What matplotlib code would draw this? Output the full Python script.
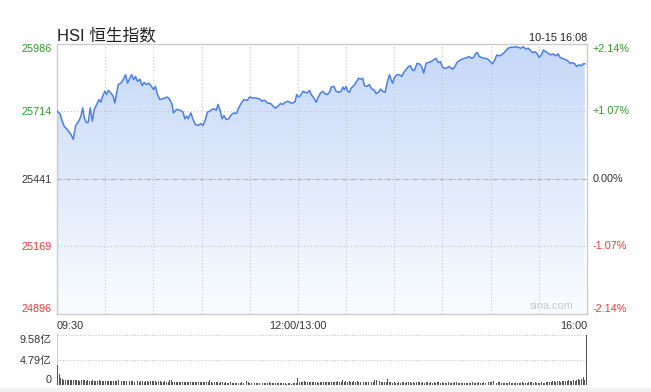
import numpy as np
import matplotlib
matplotlib.use('Agg')
import matplotlib.pyplot as plt
from matplotlib.colors import LinearSegmentedColormap
from matplotlib.patches import Polygon, Rectangle

plt.rcParams['font.family'] = ['Liberation Sans', 'Noto Sans CJK SC', 'DejaVu Sans']

# 恒生指数 分时 (trading minutes since 09:30, lunch break removed)
minutes = [0, 1.9, 2.9, 4.6, 6.0, 7.0, 8.7, 10.1, 11.6, 13.3, 14.9, 16.0, 17.0, 18.4, 19.5,
           20.7, 22.0, 23.2, 24.7, 26.1, 27.3, 28.4, 29.8, 30.9, 31.9, 33.6, 35.0, 36.0, 37.1,
           38.1, 39.8, 41.2, 42.7, 43.9, 45.4, 46.4, 47.7, 48.9, 50.1, 51.6, 53.0, 54.3, 55.7,
           57.2, 58.8, 60.1, 61.3, 62.6, 64.0, 65.5, 67.1, 68.8, 70.2, 71.7, 72.5, 74.4, 76.4,
           78.5, 79.6, 80.8, 81.6, 83.3, 84.7, 86.2, 87.8, 89.5, 90.9, 92.4, 93.6, 95.1, 96.5,
           97.8, 99.2, 100.3, 101.5, 102.8, 104.0, 105.4, 106.9, 108.6, 110.2, 111.7, 113.1,
           114.8, 116.4, 118.5, 119.9, 122.0, 124.1, 126.2, 127.6, 129.3, 130.9, 133.0, 134.5,
           135.9, 137.6, 139.2, 140.7, 142.1, 143.8, 145.4, 146.9, 148.3, 149.2, 150.4, 151.6,
           153.1, 154.5, 155.8, 157.2, 158.3, 159.9, 161.4, 162.4, 164.1, 165.5, 166.6, 168.2,
           169.7, 170.7, 172.4, 173.8, 175.3, 176.9, 178.0, 179.0, 180.0, 181.1, 182.1, 183.1,
           184.8, 186.2, 187.7, 188.9, 190.4, 191.4, 193.1, 194.5, 196.0, 197.2, 198.7, 200.1,
           201.4, 202.8, 204.3, 205.5, 207.0, 208.0, 209.0, 210.1, 211.7, 213.2, 214.6, 215.9,
           217.3, 218.8, 220.0, 221.5, 222.5, 224.2, 225.6, 227.1, 228.3, 229.8, 231.2, 232.9,
           234.5, 236.0, 237.4, 238.7, 240.1, 241.6, 242.8, 244.2, 246.3, 247.8, 249.0, 250.5,
           251.9, 253.6, 255.2, 256.7, 258.1, 259.4, 260.8, 261.9, 262.9, 264.3, 265.6, 267.0,
           268.5, 269.7, 271.2, 272.6, 273.9, 275.3, 276.8, 278.4, 279.5, 280.9, 282.6, 284.2,
           285.7, 287.1, 288.8, 290.4, 291.9, 293.3, 294.6, 296.0, 297.5, 298.7, 300.2, 301.6,
           302.9, 304.3, 305.8, 307.4, 309.1, 310.5, 312.0, 313.2, 314.7, 316.1, 317.8, 319.5,
           320.9, 322.4, 323.6, 325.0, 326.5, 327.7, 328.6]
prices = [25715, 25705, 25681, 25652, 25644, 25635, 25621, 25601, 25657, 25671, 25695, 25728,
          25688, 25668, 25671, 25728, 25675, 25722, 25742, 25762, 25751, 25775, 25795, 25782,
          25799, 25788, 25775, 25748, 25788, 25822, 25828, 25842, 25862, 25828, 25848, 25862,
          25842, 25855, 25835, 25844, 25818, 25831, 25822, 25828, 25815, 25802, 25815, 25782,
          25762, 25764, 25768, 25772, 25762, 25742, 25708, 25722, 25719, 25711, 25684, 25695,
          25684, 25708, 25681, 25661, 25657, 25665, 25657, 25681, 25711, 25715, 25722, 25724,
          25719, 25742, 25719, 25684, 25697, 25681, 25684, 25701, 25708, 25705, 25728, 25748,
          25762, 25758, 25772, 25768, 25768, 25764, 25755, 25759, 25748, 25746, 25735, 25727,
          25735, 25746, 25742, 25751, 25755, 25748, 25748, 25754, 25782, 25772, 25778, 25795,
          25791, 25788, 25799, 25782, 25768, 25751, 25768, 25788, 25795, 25786, 25782, 25791,
          25812, 25815, 25795, 25791, 25795, 25812, 25802, 25815, 25795, 25791, 25808, 25818,
          25831, 25848, 25844, 25848, 25818, 25815, 25822, 25804, 25802, 25786, 25791, 25804,
          25795, 25791, 25828, 25862, 25842, 25828, 25852, 25862, 25862, 25855, 25871, 25882,
          25895, 25898, 25879, 25879, 25908, 25906, 25895, 25868, 25908, 25911, 25915, 25922,
          25928, 25911, 25915, 25892, 25887, 25890, 25895, 25884, 25895, 25911, 25919, 25924,
          25928, 25932, 25935, 25928, 25932, 25949, 25951, 25935, 25932, 25928, 25928, 25924,
          25915, 25906, 25922, 25942, 25938, 25942, 25951, 25959, 25969, 25973, 25973, 25975,
          25973, 25969, 25975, 25965, 25969, 25962, 25951, 25955, 25949, 25932, 25942, 25962,
          25955, 25949, 25942, 25946, 25938, 25946, 25932, 25928, 25924, 25919, 25908, 25911,
          25906, 25895, 25902, 25898, 25906, 25906]

# 成交额 per minute (亿)
volume = [3.9, 2.0, 1.3, 1.1, 1.0, 1.0, 0.95, 0.9, 1.0, 0.95,
          0.9, 1.0, 0.95, 0.9, 0.85, 0.9, 0.95, 0.9, 0.85, 0.9,
          0.85, 0.8, 0.9, 0.85, 0.8, 0.85, 0.9, 0.8, 0.85, 0.8,
          0.8, 0.75, 0.85, 0.8, 0.75, 0.8, 0.85, 0.8, 0.9, 0.75,
          0.7, 0.8, 0.85, 0.75, 0.7, 0.8, 0.75, 0.7, 0.65, 0.75,
          0.7, 0.65, 0.75, 0.7, 0.6, 0.7, 0.8, 0.65, 0.7, 0.75,
          0.8, 0.7, 0.65, 0.75, 0.7, 0.6, 0.65, 0.7, 0.6, 0.55,
          1.0, 0.9, 0.6, 0.55, 0.5, 0.6, 0.55, 0.5, 0.6, 0.55,
          0.6, 0.5, 0.55, 0.6, 0.5, 0.55, 0.6, 0.5, 0.55, 0.5,
          0.55, 0.5, 0.6, 0.5, 0.55, 0.95, 0.5, 0.45, 0.5, 0.55,
          0.5, 0.45, 0.5, 0.55, 0.45, 0.5, 0.4, 0.45, 0.5, 0.4,
          0.45, 0.4, 0.35, 0.45, 0.4, 0.5, 0.45, 0.55, 0.8, 0.5,
          0.45, 0.4, 0.5, 0.35, 0.4, 0.45, 0.35, 0.4, 0.3, 0.35,
          0.4, 0.35, 0.6, 0.35, 0.3, 0.35, 0.3, 0.3, 0.35, 0.3,
          0.3, 0.35, 0.3, 0.25, 0.3, 0.3, 0.25, 0.3, 0.3, 0.35,
          1.25, 0.6, 0.5, 0.55, 0.7, 0.5, 0.55, 0.5, 0.6, 0.5,
          0.55, 0.5, 0.6, 0.45, 0.55, 0.5, 0.6, 0.5, 0.55, 0.6,
          0.65, 0.5, 0.55, 0.6, 0.55, 0.7, 0.6, 0.65, 1.0, 0.6,
          0.7, 0.6, 0.75, 0.6, 0.55, 0.7, 0.6, 0.75, 0.65, 0.6,
          0.7, 0.65, 0.55, 0.5, 0.6, 0.65, 0.55, 0.6, 0.9, 1.0,
          0.6, 0.8, 0.55, 0.5, 0.6, 0.55, 1.1, 0.6, 0.5, 0.45,
          0.5, 0.45, 0.4, 0.5, 0.45, 0.5, 0.55, 0.45, 0.5, 0.55,
          0.5, 0.45, 0.5, 0.45, 0.5, 0.55, 0.5, 0.45, 0.5, 0.45,
          0.5, 0.55, 0.45, 0.5, 0.45, 0.5, 0.45, 0.5, 0.55, 0.45,
          0.5, 0.45, 0.4, 0.45, 0.5, 0.45, 0.4, 0.45, 0.5, 0.65,
          0.45, 0.4, 0.45, 0.4, 0.45, 0.4, 0.45, 0.4, 0.45, 0.5,
          0.45, 0.4, 0.45, 0.5, 0.45, 0.4, 0.5, 0.45, 0.55, 0.6,
          0.5, 0.55, 0.7, 0.5, 0.45, 0.6, 0.5, 0.45, 0.4, 0.45,
          0.4, 0.45, 0.5, 0.45, 0.4, 0.45, 0.4, 0.45, 0.4, 0.45,
          0.5, 0.45, 0.4, 0.45, 0.6, 0.65, 0.5, 0.45, 0.5, 0.45,
          0.4, 0.45, 0.5, 0.45, 0.4, 0.5, 0.6, 0.55, 0.5, 0.7,
          0.8, 0.65, 0.7, 0.8, 0.6, 0.75, 0.85, 0.7, 0.8, 0.9,
          0.75, 0.85, 1.0, 0.8, 0.9, 1.05, 0.9, 1.1, 1.6, 1.0,
          9.5]

prev_close = 25441
y_ticks = [24896, 25169, 25441, 25714, 25986]
pct_labels = ['-2.14%', '-1.07%', '0.00%', '+1.07%', '+2.14%']
tick_colors = ['#f23a3a', '#f23a3a', '#333333', '#2d9e2d', '#2d9e2d']
x_ticks = [0, 150, 330]
x_labels = ['09:30', '12:00/13:00', '16:00']
vol_ticks = [0, 4.79, 9.58]
vol_labels = ['0', '4.79亿', '9.58亿']

W, H = 651, 392
fig = plt.figure(figsize=(W / 100, H / 100), dpi=100)
ax = fig.add_axes([57 / W, 1 - 314 / H, 530 / W, 270 / H])
axv = fig.add_axes([57 / W, 1 - 385 / H, 530 / W, 52 / H])
fig.patches.append(Rectangle((0, 0), 1, 4 / H, transform=fig.transFigure,
                             color='#f0f0f0', zorder=0))

ylo, yhi = y_ticks[0], y_ticks[-1]
ax.set_xlim(0, 330)
ax.set_ylim(ylo, yhi)

# gradient fill under line
cmap = LinearSegmentedColormap.from_list('fill', ['#fafcff', '#c6d8f8'])
grad = np.linspace(0, 1, 256).reshape(-1, 1)
im = ax.imshow(grad, aspect='auto', cmap=cmap, origin='lower',
               extent=[0, 330, ylo, yhi], zorder=1)
verts = [(minutes[0], ylo)] + list(zip(minutes, prices)) + [(minutes[-1], ylo)]
poly = Polygon(verts, closed=True, facecolor='none', edgecolor='none')
ax.add_patch(poly)
im.set_clip_path(poly)

# grid
for m in range(30, 330, 30):
    ax.axvline(m, color='#c8c8c8', lw=0.8, ls=(0, (1, 2)), zorder=2)
for v in y_ticks[1:-1]:
    if v == prev_close:
        ax.axhline(v, color='#b0b0b0', lw=0.8, ls=(0, (4, 1.5, 1, 1.5)), zorder=2)
    else:
        ax.axhline(v, color='#c8c8c8', lw=0.8, ls=(0, (1, 2)), zorder=2)

ax.plot(minutes, prices, color='#4a80e8', lw=1.1, zorder=3)

for s in ax.spines.values():
    s.set_color('#cccccc')
    s.set_linewidth(1)

ax.set_yticks(y_ticks)
ax.set_yticklabels([str(v) for v in y_ticks], fontsize=7.8)
ax.tick_params(axis='y', length=0, pad=4)
for lab, c in zip(ax.get_yticklabels(), tick_colors):
    lab.set_color(c)
ax.get_yticklabels()[0].set_va('bottom')
ax.get_yticklabels()[-1].set_va('top')

ax.set_xticks(x_ticks)
ax.set_xticklabels(x_labels, fontsize=7.8, color='#333333')
ax.tick_params(axis='x', length=0, pad=5)
for lab, ha in zip(ax.get_xticklabels(), ['left', 'center', 'right']):
    lab.set_ha(ha)

ytr = ax.get_yaxis_transform()
for v, t, c in zip(y_ticks, pct_labels, tick_colors):
    va = 'bottom' if v == ylo else ('top' if v == yhi else 'center')
    ax.text(1.01, v, t, transform=ytr, fontsize=7.8, color=c, ha='left', va=va)

ax.text(0, 1.004, 'HSI 恒生指数', transform=ax.transAxes, fontsize=12,
        color='#222222', ha='left', va='bottom')
ax.text(1, 1.004, '10-15 16:08', transform=ax.transAxes, fontsize=7.8,
        color='#222222', ha='right', va='bottom')
ax.text(0.975, 0.01, 'sina.com', transform=ax.transAxes, fontsize=7.8,
        color='#c8c8c8', ha='right', va='bottom')

# volume
axv.bar(np.arange(len(volume)), volume, width=0.6, color='#555555', zorder=3)
axv.set_xlim(-0.3, 330.4)
axv.set_ylim(0, 9.58 * 52 / 50.3)
for v in vol_ticks[1:]:
    axv.axhline(v, color='#c8c8c8', lw=0.8, ls=(0, (1, 1.5)), zorder=1)
for name, s in axv.spines.items():
    s.set_visible(name == 'left')
    s.set_color('#cccccc')
axv.set_xticks([])
axv.set_yticks(vol_ticks)
axv.set_yticklabels(vol_labels, fontsize=7.8, color='#333333')
axv.tick_params(axis='y', length=0, pad=4)
axv.get_yticklabels()[0].set_va('bottom')
axv.get_yticklabels()[-1].set_va('top')

fig.savefig('out.png', dpi=100)
